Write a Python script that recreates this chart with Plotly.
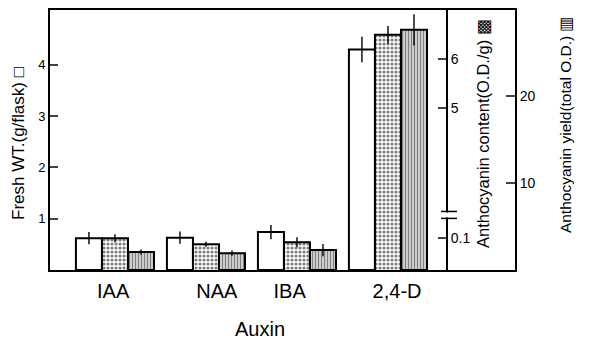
import plotly.graph_objects as go

# ---- data ----
auxins = ["IAA", "NAA", "IBA", "2,4-D"]
fresh_wt = [0.62, 0.63, 0.74, 4.30]          # g/flask (left axis)
fresh_wt_err = [0.12, 0.12, 0.14, 0.25]
antho_content = [2.38, 2.26, 2.30, 6.48]     # position on broken content axis
antho_content_err = [0.08, 0.05, 0.10, 0.18]
antho_yield = [2.06, 1.94, 2.29, 27.66]      # total O.D. (far right axis)
antho_yield_err = [0.3, 0.3, 0.7, 1.8]
left_ticks = [1, 2, 3, 4]
content_tickvals = [2.38, 5, 6]
content_ticktext = ["0.1", "5", "6"]
yield_ticks = [10, 20]

FONT = "Liberation Sans, Arial, sans-serif"
xs = list(range(len(auxins)))
W = 0.286
label_shift = [-0.02, 0.12, -0.08, 0.10]

# page offset (browser body margin) compensation
OFF = 8
PAGE_W, PAGE_H = 590, 346
PL, PR, PT, PB = 50, 515, 8, 270   # plot area in page pixels

fig = go.Figure()

err_style = dict(type="data", visible=True, color="black", thickness=1.4, width=0)

fig.add_trace(go.Bar(
    x=xs, y=fresh_wt, width=W, offset=-1.5 * W, yaxis="y",
    marker=dict(color="white", line=dict(color="black", width=2)),
    error_y=dict(array=fresh_wt_err, **err_style), showlegend=False))

fig.add_trace(go.Bar(
    x=xs, y=antho_content, width=W, offset=-0.5 * W, yaxis="y2",
    marker=dict(color="white", line=dict(color="black", width=2),
                pattern=dict(shape=".", size=4, solidity=0.5, fgcolor="black", bgcolor="white")),
    error_y=dict(array=antho_content_err, **err_style), showlegend=False))

fig.add_trace(go.Bar(
    x=xs, y=antho_yield, width=W, offset=0.5 * W, yaxis="y3",
    marker=dict(color="white", line=dict(color="black", width=2),
                pattern=dict(shape="|", size=3, solidity=0.6, fgcolor="black", bgcolor="white")),
    error_y=dict(array=antho_yield_err, **err_style), showlegend=False))

plot_w = PR - PL
plot_h = PB - PT

def px_x(p):
    return (p - PL) / plot_w

def px_y(p):
    return (PB - p) / plot_h

fig.update_layout(
    width=PAGE_W - OFF, height=PAGE_H - OFF,
    margin=dict(l=PL - OFF, r=PAGE_W - PR, t=PT - OFF, b=PAGE_H - PB, pad=0),
    paper_bgcolor="white", plot_bgcolor="white",
    font=dict(family=FONT, color="black"),
    barmode="overlay",
    xaxis=dict(range=[-0.714, 4.396], showgrid=False, zeroline=False,
               showline=True, linecolor="black", linewidth=2, mirror=True,
               tickvals=[x + s for x, s in zip(xs, label_shift)], ticktext=auxins,
               ticks="", tickfont=dict(size=20, family=FONT), ticklabelstandoff=2),
    yaxis=dict(range=[0, plot_h / 51.67], showgrid=False, zeroline=False,
               showline=True, linecolor="black", linewidth=2,
               tickvals=left_ticks, ticks="inside", ticklen=8, tickwidth=1.5,
               tickfont=dict(size=13, family=FONT)),
    yaxis2=dict(range=[6 - (PB - 57) / 50, 6 + (57 - PT) / 50], overlaying="y",
                anchor="free", side="right",
                position=px_x(447), showgrid=False, zeroline=False,
                showline=True, linecolor="black", linewidth=2,
                tickvals=content_tickvals, ticktext=content_ticktext,
                ticks="inside", ticklen=8, tickwidth=1.5,
                tickfont=dict(size=14, family=FONT)),
    yaxis3=dict(range=[0, plot_h / 8.75], overlaying="y", anchor="x", side="right",
                showgrid=False, zeroline=False,
                showline=True, linecolor="black", linewidth=2,
                tickvals=yield_ticks, ticks="inside", ticklen=9, tickwidth=1.5,
                tickfont=dict(size=14, family=FONT)),
)

# broken-axis marker on the content axis
fig.add_shape(type="rect", xref="paper", yref="paper",
              x0=px_x(444), x1=px_x(450), y0=px_y(217), y1=px_y(212),
              fillcolor="white", line=dict(width=0), layer="above")
for yy in (211, 218):
    fig.add_shape(type="line", xref="paper", yref="paper",
                  x0=px_x(441), x1=px_x(457), y0=px_y(yy), y1=px_y(yy),
                  line=dict(color="black", width=1.5), layer="above")

def title(text, x, y, size):
    fig.add_annotation(text=text, xref="paper", yref="paper",
                       x=px_x(x), y=px_y(y), textangle=-90, showarrow=False,
                       font=dict(family=FONT, size=size, color="black"),
                       xanchor="center", yanchor="middle")

title("Fresh WT.(g/flask) □", 19, 143, 17)
title("Anthocyanin content(O.D./g) ▩", 483, 133, 16.5)
title("Anthocyanin yield(total O.D.) ▥", 565, 124, 15.5)

fig.add_annotation(text="Auxin", xref="paper", yref="paper",
                   x=px_x(260), y=px_y(329), showarrow=False,
                   font=dict(family=FONT, size=20, color="black"),
                   xanchor="center", yanchor="middle")

fig.write_html("out.html")
